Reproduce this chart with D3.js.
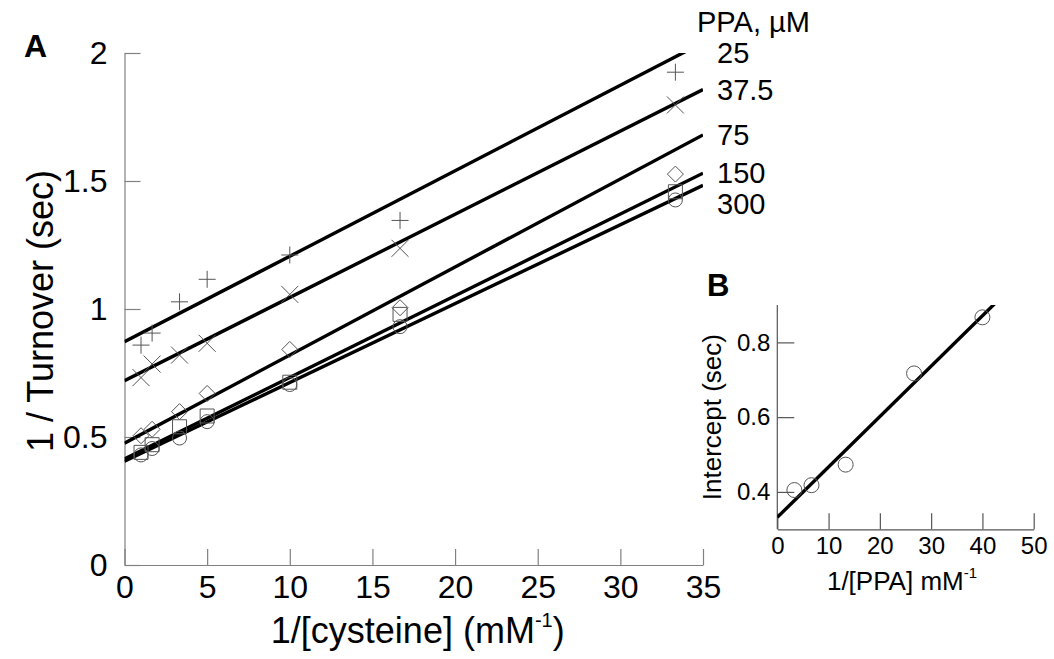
<!DOCTYPE html>
<html>
<head>
<meta charset="utf-8">
<script src="https://cdn.jsdelivr.net/npm/d3@7"></script>
<style>
  body { margin: 0; background: #fff; }
  svg { display: block; font-family: "Liberation Sans", Arial, sans-serif; }
</style>
</head>
<body>
<div id="chart"></div>
<script>
// Panel A: 1/turnover vs 1/[cysteine] at several PPA concentrations
const cysInv = [1, 1.67, 3.33, 5, 10, 16.67, 33.33];
const ppaLabels = ["25", "37.5", "75", "150", "300"];
const ppaSymbols = ["plus", "cross", "diamond", "square", "circle"];
const turnover = [
    [0.859, 0.906, 1.028, 1.116, 1.211, 1.346, 1.925],
    [0.732, 0.785, 0.820, 0.866, 1.057, 1.237, 1.797],
    [0.505, 0.530, 0.599, 0.670, 0.842, 1.005, 1.527],
    [0.440, 0.470, 0.540, 0.582, 0.714, 0.979, 1.458],
    [0.430, 0.455, 0.496, 0.560, 0.705, 0.931, 1.426]
];
const fitIntercept = [0.872, 0.720, 0.476, 0.414, 0.405];
const fitSlope = [0.0334, 0.0325, 0.0344, 0.0319, 0.0308];
const xTicksA = [0, 5, 10, 15, 20, 25, 30, 35];
const yTicksA = [0, 0.5, 1, 1.5, 2];

// Panel B: intercepts vs 1/[PPA]
const ppaInv = [3.33, 6.67, 13.33, 26.67, 40];
const intercepts = [0.405, 0.418, 0.473, 0.717, 0.867];
const fitB = { intercept: 0.332, slope: 0.01348 };
const xTicksB = [0, 10, 20, 30, 40, 50];
const yTicksB = [0.4, 0.6, 0.8];

const width = 1054, height = 659;
const svg = d3.select("#chart").append("svg")
    .attr("width", width)
    .attr("height", height);

// ---- Panel A ----
const x = d3.scaleLinear().domain([0, 35]).range([124.5, 703]);
const y = d3.scaleLinear().domain([0, 2]).range([565, 53]);

svg.append("clipPath").attr("id", "clipA")
    .append("rect")
    .attr("x", x(0)).attr("y", y(2))
    .attr("width", x(35) - x(0)).attr("height", y(0) - y(2));

const axisColorA = "#808080";

const gx = svg.append("g")
    .attr("transform", `translate(0,${y(0)})`)
    .call(d3.axisBottom(x).tickValues(xTicksA).tickSizeInner(-16).tickSizeOuter(0).tickPadding(10));
const gy = svg.append("g")
    .attr("transform", `translate(${x(0)},0)`)
    .call(d3.axisLeft(y).tickValues(yTicksA).tickFormat(d3.format("")).tickSizeInner(-16).tickSizeOuter(0).tickPadding(17));

[gx, gy].forEach(g => {
    g.selectAll("path, line").attr("stroke", axisColorA).attr("stroke-width", 1.2);
    g.selectAll("text").attr("font-size", 32).attr("fill", "#000").attr("font-family", null);
});

// fitted lines
svg.append("g")
    .attr("clip-path", "url(#clipA)")
    .selectAll("line")
    .data(ppaLabels.map((p, i) => ({ b: fitIntercept[i], m: fitSlope[i] })))
    .join("line")
    .attr("x1", x(0))
    .attr("y1", d => y(d.b))
    .attr("x2", x(35))
    .attr("y2", d => y(d.b + d.m * 35))
    .attr("stroke", "#000")
    .attr("stroke-width", 3.4);

// marker shapes
function symbolPath(type, s) {
    switch (type) {
        case "plus": return `M${-s},0H${s}M0,${-s}V${s}`;
        case "cross": return `M${-s},${-s}L${s},${s}M${-s},${s}L${s},${-s}`;
        case "diamond": return `M0,${-s}L${s},0L0,${s}L${-s},0Z`;
        case "square": return `M${-s},${-s}H${s}V${s}H${-s}Z`;
        default: return d3.arc()({ innerRadius: 0, outerRadius: s, startAngle: 0, endAngle: 2 * Math.PI });
    }
}
const symbolSize = { plus: 8.5, cross: 8.5, diamond: 8, square: 7, circle: 7 };

const points = [];
turnover.forEach((row, i) => {
    row.forEach((v, j) => points.push({ sym: ppaSymbols[i], x: cysInv[j], v: v }));
});

svg.append("g")
    .selectAll("path")
    .data(points)
    .join("path")
    .attr("transform", d => `translate(${x(d.x)},${y(d.v)})`)
    .attr("d", d => symbolPath(d.sym, symbolSize[d.sym]))
    .attr("fill", "none")
    .attr("stroke", "#555")
    .attr("stroke-width", 1);

// line labels (PPA concentration), pushed apart when they crowd
let lastY = -Infinity;
const labelPos = fitIntercept.map((b, i) => {
    let py = y(Math.min(2, b + fitSlope[i] * 35));
    if (py < lastY + 31) py = lastY + 31;
    lastY = py;
    return py;
});
svg.append("g")
    .selectAll("text")
    .data(ppaLabels)
    .join("text")
    .attr("x", x(35) + 14)
    .attr("y", (d, i) => labelPos[i])
    .attr("dy", "0.35em")
    .attr("font-size", 29)
    .text(d => d);

svg.append("text")
    .attr("x", 697).attr("y", 32)
    .attr("font-size", 29)
    .text("PPA, \u00b5M");

// axis titles A
svg.append("text")
    .attr("transform", `translate(40,${(y(0) + y(2)) / 2 + 2}) rotate(-90)`)
    .attr("text-anchor", "middle")
    .attr("dy", "0.35em")
    .attr("font-size", 36)
    .text("1 / Turnover (sec)");

const xTitle = svg.append("text")
    .attr("x", (x(0) + x(35)) / 2 + 4)
    .attr("y", 643)
    .attr("text-anchor", "middle")
    .attr("font-size", 36);
xTitle.append("tspan").text("1/[cysteine] (mM");
xTitle.append("tspan").attr("font-size", 20).attr("dy", -16).text("-1");
xTitle.append("tspan").attr("dy", 16).text(")");

svg.append("text")
    .attr("x", 24).attr("y", 57)
    .attr("font-size", 32).attr("font-weight", "bold")
    .text("A");

// ---- Panel B ----
const xb = d3.scaleLinear().domain([0, 50]).range([777.3, 1033.7]);
const yb = d3.scaleLinear().domain([0.3, 0.9]).range([529.3, 305]);

svg.append("clipPath").attr("id", "clipB")
    .append("rect")
    .attr("x", xb(0)).attr("y", yb(0.9))
    .attr("width", xb(50) - xb(0)).attr("height", yb(0.3) - yb(0.9));

const axisColorB = "#555";
const gxb = svg.append("g")
    .attr("transform", `translate(0,${yb(0.3)})`)
    .call(d3.axisBottom(xb).tickValues(xTicksB).tickSizeInner(-16).tickSizeOuter(0).tickPadding(8));
const gyb = svg.append("g")
    .attr("transform", `translate(${xb(0)},0)`)
    .call(d3.axisLeft(yb).tickValues(yTicksB).tickFormat(d3.format(".1f")).tickSizeInner(-17).tickSizeOuter(0).tickPadding(7));
[gxb, gyb].forEach(g => {
    g.selectAll("path, line").attr("stroke", axisColorB).attr("stroke-width", 1.2);
    g.selectAll("text").attr("font-size", 24).attr("fill", "#000").attr("font-family", null);
});
gyb.select(".domain").attr("d", `M0,${yb(0.3)}V${yb(0.9)}`);

svg.append("line")
    .attr("clip-path", "url(#clipB)")
    .attr("x1", xb(0)).attr("y1", yb(fitB.intercept))
    .attr("x2", xb(45)).attr("y2", yb(fitB.intercept + fitB.slope * 45))
    .attr("stroke", "#000")
    .attr("stroke-width", 3.4);

svg.append("g")
    .selectAll("circle")
    .data(ppaInv.map((v, i) => ({ x: v, v: intercepts[i] })))
    .join("circle")
    .attr("cx", d => xb(d.x))
    .attr("cy", d => yb(d.v))
    .attr("r", 7.5)
    .attr("fill", "none")
    .attr("stroke", "#555")
    .attr("stroke-width", 1);

svg.append("text")
    .attr("transform", `translate(712,${(yb(0.3) + yb(0.9)) / 2}) rotate(-90)`)
    .attr("text-anchor", "middle")
    .attr("dy", "0.35em")
    .attr("font-size", 26)
    .text("Intercept (sec)");

const xbTitle = svg.append("text")
    .attr("x", 902).attr("y", 590)
    .attr("text-anchor", "middle")
    .attr("font-size", 26);
xbTitle.append("tspan").text("1/[PPA] mM");
xbTitle.append("tspan").attr("font-size", 15).attr("dy", -12).text("-1");

svg.append("text")
    .attr("x", 707).attr("y", 296)
    .attr("font-size", 31).attr("font-weight", "bold")
    .text("B");
</script>
</body>
</html>
